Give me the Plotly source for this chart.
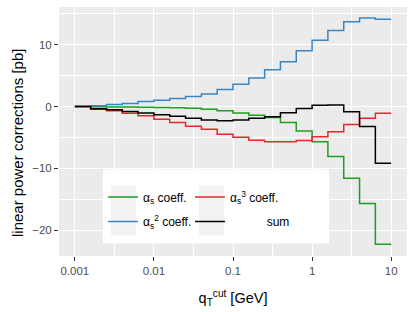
import numpy as np
import plotly.graph_objects as go

# bin edges of q_T^cut (GeV), 0.2 decade steps from 0.001 to 10
qT_cut = [round(10 ** e, 8) for e in np.arange(-3.0, 1.0001, 0.2)]

# step values for each bin (last value repeated at the end point q_T = 10)
alpha_s = [0, -0.03, -0.07, -0.1, -0.13, -0.17, -0.2, -0.3, -0.45, -0.7,
           -1.05, -1.4, -1.8, -2.6, -3.95, -5.7, -8.1, -11.6, -15.7, -22.3, -22.3]
alpha_s2 = [0, 0.1, 0.3, 0.5, 0.8, 1.0, 1.3, 1.6, 2.0, 2.75,
            3.6, 4.6, 5.95, 7.25, 9.0, 10.7, 12.3, 13.7, 14.3, 14.1, 14.1]
alpha_s3 = [0, -0.45, -0.7, -1.1, -1.5, -2.05, -2.6, -3.2, -3.7, -4.5,
            -5.0, -5.45, -5.7, -5.7, -5.5, -4.9, -4.1, -2.9, -1.9, -1.1, -1.1]
total = [0, -0.35, -0.55, -0.8, -1.05, -1.35, -1.6, -1.9, -2.2, -2.33,
         -2.17, -1.9, -1.68, -1.0, -0.33, 0.2, 0.25, -0.87, -3.24, -9.2, -9.2]

series_names = ["α<sub>s</sub> coeff.", "α<sub>s</sub><sup>2</sup> coeff.",
                "α<sub>s</sub><sup>3</sup> coeff.", "\u00a0" * 11 + "sum"]
series_colors = ["#1f9e1f", "#3a86c2", "#e2292c", "#000000"]
series_values = [alpha_s, alpha_s2, alpha_s3, total]
legend_ids = ["legend", "legend2", "legend3", "legend4"]

y_ticks = [-20, -10, 0, 10]
y_minor = [-15, -5, 5, 15]
x_ticks = [0.001, 0.01, 0.1, 1, 10]
x_tick_labels = ["0.001", "0.01", "0.1", "1", "10"]
x_minor = [10 ** -2.5, 10 ** -1.5, 10 ** -0.5, 10 ** 0.5]

FONT = "Liberation Sans, Arial, sans-serif"
W, H = 415, 312

fig = go.Figure()
for name, col, vals, lg in zip(series_names, series_colors, series_values, legend_ids):
    fig.add_trace(go.Scatter(x=qT_cut, y=vals, mode="lines", name=name,
                             line=dict(color=col, width=1.5, shape="hv"),
                             legend=lg))

# panel geometry (px)
L, R, T, B = 59, 8, 7, 56
pw, ph = W - L - R, H - T - B

def px2paper_x(px):
    return (px - L) / pw

def px2paper_y(py):
    return (H - B - py) / ph

shapes = [
    dict(type="rect", xref="paper", yref="paper", layer="above",
         x0=px2paper_x(103), x1=px2paper_x(329), y0=px2paper_y(243.5), y1=px2paper_y(169.5),
         fillcolor="white", line=dict(width=0)),
    dict(type="rect", xref="paper", yref="paper", layer="above",
         x0=px2paper_x(111), x1=px2paper_x(136), y0=px2paper_y(235.5), y1=px2paper_y(185.5),
         fillcolor="#f2f2f2", line=dict(width=0)),
    dict(type="rect", xref="paper", yref="paper", layer="above",
         x0=px2paper_x(199), x1=px2paper_x(224), y0=px2paper_y(235.5), y1=px2paper_y(185.5),
         fillcolor="#f2f2f2", line=dict(width=0)),
]

legend_pos = {"legend": (103, 197), "legend2": (103, 221.5),
              "legend3": (190, 197), "legend4": (190, 221.5)}
leg_layout = {}
for lg, (lx, ly) in legend_pos.items():
    leg_layout[lg] = dict(xref="paper", yref="paper", x=px2paper_x(lx), y=px2paper_y(ly),
                          xanchor="left", yanchor="middle", bgcolor="rgba(0,0,0,0)",
                          borderwidth=0, font=dict(family=FONT, size=12, color="black"),
                          itemwidth=30)

fig.update_layout(
    width=W, height=H,
    margin=dict(l=L, r=R, t=T, b=B, autoexpand=False),
    paper_bgcolor="white", plot_bgcolor="#ebebeb",
    font=dict(family=FONT, size=12, color="black"),
    shapes=shapes,
    showlegend=True,
    annotations=[dict(text="linear power corrections [pb]", textangle=-90,
                      xref="paper", yref="paper", x=px2paper_x(17), y=px2paper_y(143),
                      xanchor="center", yanchor="middle", showarrow=False,
                      font=dict(family=FONT, size=15, color="black"))],
    **leg_layout,
)
fig.update_xaxes(
    type="log", range=[-3.2, 1.2], automargin=False,
    tickmode="array", tickvals=x_ticks, ticktext=x_tick_labels,
    ticks="outside", ticklen=4, tickcolor="#333333", tickwidth=1,
    tickfont=dict(family=FONT, size=11.5, color="#4d4d4d"),
    showgrid=True, gridcolor="white", gridwidth=1.1,
    minor=dict(tickmode="array", tickvals=x_minor, showgrid=True,
               gridcolor="white", gridwidth=0.55, ticks=""),
    zeroline=False, showline=False,
    title=dict(text="q<sub>T</sub><sup>cut</sup> [GeV]",
               font=dict(family=FONT, size=14.5, color="black"), standoff=17),
)
fig.update_yaxes(
    range=[-24.2, 16.1], automargin=False,
    tickmode="array", tickvals=y_ticks,
    ticks="outside", ticklen=4, tickcolor="#333333", tickwidth=1,
    tickfont=dict(family=FONT, size=11.5, color="#4d4d4d"),
    showgrid=True, gridcolor="white", gridwidth=1.1,
    minor=dict(tickmode="array", tickvals=y_minor, showgrid=True,
               gridcolor="white", gridwidth=0.55, ticks=""),
    zeroline=False, showline=False,
)

fig.write_html("out.html", config={"displayModeBar": False},
               post_script="document.body.style.margin='0';")
